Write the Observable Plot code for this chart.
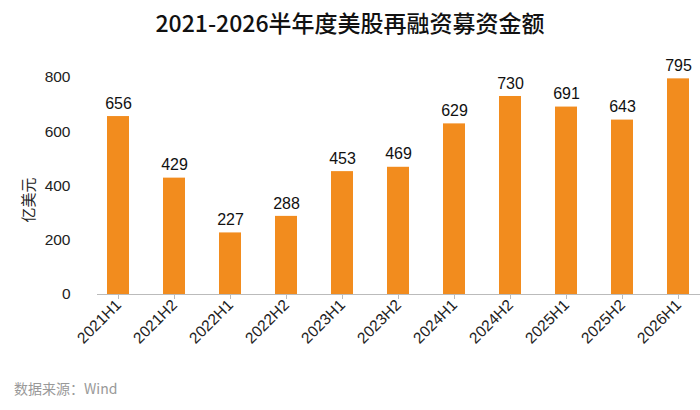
<!DOCTYPE html>
<html><head><meta charset="utf-8">
<script src="https://cdn.jsdelivr.net/npm/d3@7"></script>
<script src="https://cdn.jsdelivr.net/npm/@observablehq/plot@0.6"></script>
<style>
body{margin:0;background:#fff;font-family:"Noto Sans CJK SC","Noto Sans",sans-serif;}
#wrap{position:relative;width:700px;height:410px;}
#title{position:absolute;top:5px;width:700px;text-align:center;font-size:23px;font-weight:500;color:#111;}
#chart{position:absolute;top:45px;left:0;}
#src{position:absolute;left:14px;top:378px;font-size:14px;color:#999;}
</style></head><body>
<div id="wrap">
<div id="title">2021-2026半年度美股再融资募资金额</div>
<div id="chart"></div>
<div id="src">数据来源：Wind</div>
</div>
<script>
const periods=["2021H1","2021H2","2022H1","2022H2","2023H1","2023H2","2024H1","2024H2","2025H1","2025H2","2026H1"];
const values=[656,429,227,288,453,469,629,730,691,643,795];
const data=periods.map((p,i)=>({p,v:values[i]}));
const chart=Plot.plot({
  width:700,height:330,marginLeft:97,marginRight:0,marginTop:32,marginBottom:81,
  style:{fontFamily:"Arial, 'Liberation Sans', sans-serif",fontSize:"15.5px",color:"#222"},
  x:{domain:periods,paddingInner:0.6,paddingOuter:0.15,align:0.5,label:null,tickRotate:-45,tickSize:5,tickPadding:3},
  y:{domain:[0,800],ticks:[0,200,400,600,800],label:null,tickSize:0,tickPadding:27},
  marks:[
    Plot.barY(data,{x:"p",y:"v",fill:"#F28C1E"}),
    Plot.text(data,{x:"p",y:"v",text:d=>String(d.v),dy:-13,fontSize:16,fill:"#111"}),
    Plot.ruleY([0],{stroke:"#bbb"})
  ]
});
document.getElementById("chart").appendChild(chart);
const svg=d3.select(chart);
svg.selectAll("g[aria-label='x-axis tick'] path").attr("stroke","#bbb");
svg.append("text").attr("transform","translate(34,155) rotate(-90)").attr("text-anchor","middle")
  .attr("font-size",15).attr("font-family","Noto Sans CJK SC").text("亿美元");
</script>
</body></html>
